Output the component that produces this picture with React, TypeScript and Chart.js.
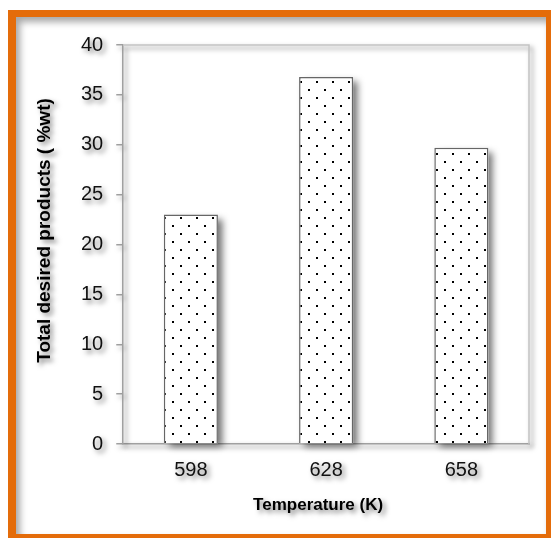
import React, { useEffect, useRef } from "react";
import { Chart, registerables } from "chart.js";

Chart.register(...registerables);

const categories = ["598", "628", "658"];
const values = [23.0, 36.8, 29.7];
const yTickMin = 0;
const yTickMax = 40;
const yTickStep = 5;
const xTitle = "Temperature (K)";
const yTitle = "Total desired products ( %wt)";

const ORANGE = "#E46C0A";
const FONT = "'Liberation Sans', Arial, sans-serif";

function makePattern(): CanvasPattern | string {
  const c = document.createElement("canvas");
  c.width = 16;
  c.height = 16;
  const g = c.getContext("2d");
  if (!g) return "#fff";
  g.fillStyle = "#ffffff";
  g.fillRect(0, 0, 16, 16);
  g.fillStyle = "#000000";
  g.fillRect(4, 9, 2, 2);
  g.fillRect(12, 1, 2, 2);
  const p = g.createPattern(c, "repeat");
  return p || "#fff";
}

function setShadow(ctx: CanvasRenderingContext2D, on: boolean) {
  if (on) {
    ctx.shadowColor = "rgba(0,0,0,0.5)";
    ctx.shadowBlur = 5;
    ctx.shadowOffsetX = 3;
    ctx.shadowOffsetY = 3;
  } else {
    ctx.shadowColor = "rgba(0,0,0,0)";
    ctx.shadowBlur = 0;
    ctx.shadowOffsetX = 0;
    ctx.shadowOffsetY = 0;
  }
}

const decorPlugin = {
  id: "decor",
  beforeDraw(chart: any) {
    setShadow(chart.ctx, true);
  },
  beforeDatasetsDraw(chart: any) {
    const ctx = chart.ctx as CanvasRenderingContext2D;
    const a = chart.chartArea;
    ctx.save();
    setShadow(ctx, true);
    ctx.strokeStyle = "#c4c4c4";
    ctx.lineWidth = 1.5;
    ctx.beginPath();
    ctx.moveTo(a.left, a.top);
    ctx.lineTo(a.right, a.top);
    ctx.lineTo(a.right, a.bottom);
    ctx.stroke();
    const meta = chart.getDatasetMeta(0);
    ctx.shadowColor = "rgba(0,0,0,0.55)";
    ctx.shadowBlur = 7;
    ctx.shadowOffsetX = 5;
    ctx.shadowOffsetY = 4;
    ctx.fillStyle = "#ffffff";
    meta.data.forEach((el: any) => {
      const w = el.width;
      ctx.fillRect(el.x - w / 2, el.y, w, el.base - el.y);
    });
    ctx.restore();
    setShadow(ctx, false);
  },
  afterDraw(chart: any) {
    const ctx = chart.ctx as CanvasRenderingContext2D;
    const a = chart.chartArea;
    ctx.save();
    setShadow(ctx, true);
    ctx.fillStyle = "#000";
    ctx.font = `bold 17px ${FONT}`;
    ctx.textAlign = "center";
    ctx.textBaseline = "middle";
    ctx.fillText(xTitle, (a.left + a.right) / 2 - 8, a.bottom + 61);
    ctx.translate(a.left - 78, (a.top + a.bottom) / 2 - 14);
    ctx.rotate(-Math.PI / 2);
    ctx.font = `bold 19px ${FONT}`;
    ctx.fillText(yTitle, 0, 0);
    ctx.restore();
    setShadow(ctx, false);
  },
};

export default function App() {
  const ref = useRef<HTMLCanvasElement | null>(null);

  useEffect(() => {
    if (!ref.current) return;
    const chart = new Chart(ref.current, {
      type: "bar",
      data: {
        labels: categories,
        datasets: [
          {
            data: values,
            backgroundColor: makePattern() as any,
            borderColor: "#666666",
            borderWidth: 1.5,
            barPercentage: 0.8,
            categoryPercentage: 0.5,
          },
        ],
      },
      options: {
        responsive: false,
        animation: false,
        devicePixelRatio: 1,
        layout: { padding: { left: 68, top: 45, right: 22, bottom: 42 } },
        plugins: {
          legend: { display: false },
          tooltip: { enabled: false },
          title: { display: false },
        },
        scales: {
          x: {
            grid: { display: false, drawTicks: false },
            border: { display: true, color: "#a0a0a0", width: 1.5 },
            ticks: {
              color: "#111",
              font: { family: FONT, size: 20 },
              padding: 14,
            },
          },
          y: {
            min: yTickMin,
            max: yTickMax,
            grid: {
              display: true,
              drawOnChartArea: false,
              drawTicks: true,
              tickLength: 7,
              color: "#a0a0a0",
              lineWidth: 1.5,
            },
            border: { display: true, color: "#a0a0a0", width: 1.5 },
            ticks: {
              stepSize: yTickStep,
              color: "#111",
              font: { family: FONT, size: 20 },
              padding: 13,
            },
          },
        },
      },
      plugins: [decorPlugin],
    });
    return () => chart.destroy();
  }, []);

  return (
    <div>
      <div
        style={{
          position: "fixed",
          left: 8,
          top: 10,
          width: 543,
          height: 528,
          boxSizing: "border-box",
          borderStyle: "solid",
          borderColor: ORANGE,
          borderTopWidth: 7,
          borderLeftWidth: 8,
          borderRightWidth: 5,
          borderBottomWidth: 4,
          background: "#fff",
          boxShadow: "inset 4px 5px 7px rgba(0,0,0,0.35)",
        }}
      />
      <canvas
        ref={ref}
        width={551}
        height={538}
        style={{ position: "fixed", left: 0, top: 0, width: 551, height: 538 }}
      />
    </div>
  );
}
